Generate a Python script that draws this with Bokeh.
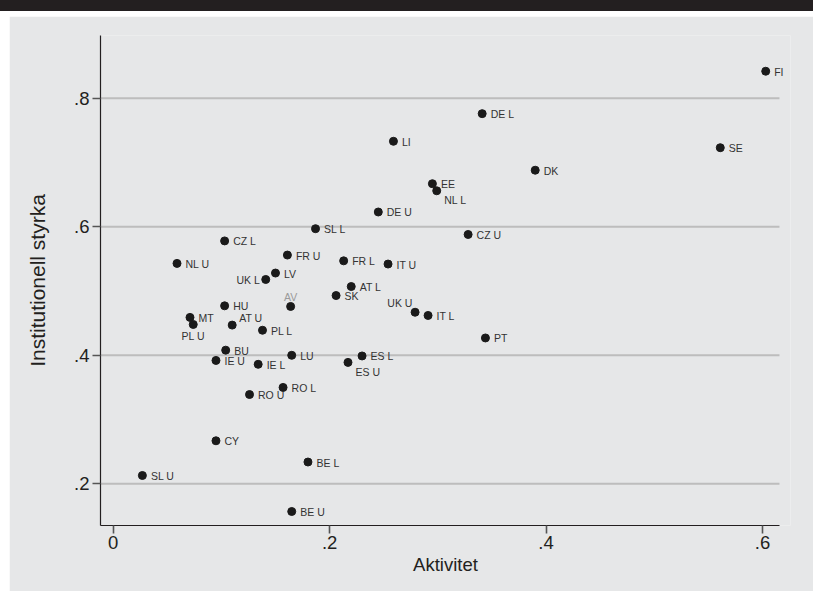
from bokeh.plotting import figure
from bokeh.models import ColumnDataSource, LabelSet, FixedTicker, Range1d, Div, Spacer
from bokeh.layouts import column, row
from bokeh.core.properties import value
from bokeh.embed import file_html
from bokeh.resources import INLINE

# ---- data ----
labels = ["FI", "SE", "DK", "DE L", "LI", "EE", "NL L", "DE U", "SL L", "CZ U",
          "CZ L", "FR U", "FR L", "IT U", "NL U", "LV", "UK L", "AT L", "SK", "HU",
          "AV", "UK U", "IT L", "MT", "PL U", "AT U", "PL L", "PT", "BU", "LU",
          "ES L", "IE U", "ES U", "IE L", "RO L", "RO U", "CY", "BE L", "SL U", "BE U"]
aktivitet = [0.603, 0.561, 0.390, 0.341, 0.259, 0.295, 0.299, 0.245, 0.187, 0.328,
             0.103, 0.161, 0.213, 0.254, 0.059, 0.150, 0.141, 0.220, 0.206, 0.103,
             0.164, 0.279, 0.291, 0.071, 0.074, 0.110, 0.138, 0.344, 0.104, 0.165,
             0.230, 0.095, 0.217, 0.134, 0.157, 0.126, 0.095, 0.180, 0.027, 0.165]
styrka = [0.842, 0.723, 0.688, 0.776, 0.733, 0.667, 0.656, 0.623, 0.597, 0.588,
          0.578, 0.556, 0.547, 0.542, 0.543, 0.528, 0.518, 0.507, 0.493, 0.477,
          0.476, 0.467, 0.462, 0.459, 0.448, 0.447, 0.439, 0.427, 0.408, 0.400,
          0.399, 0.392, 0.389, 0.386, 0.350, 0.339, 0.267, 0.234, 0.213, 0.157]

x_ticks = [0, 0.2, 0.4, 0.6]
x_tick_labels = ["0", ".2", ".4", ".6"]
y_ticks = [0.2, 0.4, 0.6, 0.8]
y_tick_labels = [".2", ".4", ".6", ".8"]

# ---- styling ----
BG = "#e6e7e8"
FONT = "Liberation Sans"
X_START, X_END = -0.0117, 0.6259     # frame range
AXIS_END = 0.6157                    # where axis line / grid lines stop
Y_START, Y_END = 0.1352, 0.8976
# label placement (style): name -> placement key
PLACE = {"UK L": "left", "AV": "above", "PL U": "below", "AT U": "upright",
         "UK U": "upleft", "NL L": "lowright", "ES U": "lowright"}
# placement -> (dx px, dy px downward, align)
OFFS = {"right": (8.5, 4.5, "left"), "left": (-6, 4.5, "right"),
        "above": (0, -5.7, "center"), "below": (0, 16, "center"),
        "upright": (7, -2.7, "left"), "upleft": (-2.7, -5, "right"),
        "lowright": (7.5, 13.5, "left")}

p = figure(width=804, height=575, output_backend="svg", toolbar_location=None,
           x_range=Range1d(X_START, X_END), y_range=Range1d(Y_START, Y_END),
           min_border_left=91, min_border_right=23, min_border_top=19,
           min_border_bottom=66, margin=0)
p.background_fill_color = BG
p.border_fill_color = BG
p.outline_line_color = None
p.grid.visible = False

# horizontal grid lines, stopping where the x axis stops
p.segment(x0=[X_START] * len(y_ticks), x1=[AXIS_END] * len(y_ticks),
          y0=y_ticks, y1=y_ticks, line_color="#bdbdbd", line_width=2,
          level="underlay")

p.xaxis.ticker = FixedTicker(ticks=x_ticks)
p.yaxis.ticker = FixedTicker(ticks=y_ticks)
p.xaxis.major_label_overrides = dict(zip(x_ticks, x_tick_labels))
p.yaxis.major_label_overrides = dict(zip(y_ticks, y_tick_labels))
p.xaxis.bounds = (X_START, AXIS_END)
p.xaxis.axis_label = "Aktivitet"
p.yaxis.axis_label = "Institutionell styrka"
for ax in (p.xaxis, p.yaxis):
    ax.axis_line_color = "#231f20"
    ax.axis_line_width = 1.2
    ax.major_tick_line_color = "#555555"
    ax.major_tick_line_width = 1.6
    ax.major_tick_in = 0
    ax.major_tick_out = 8
    ax.minor_tick_line_color = None
    ax.major_label_text_font = FONT
    ax.major_label_text_font_size = "18.5px"
    ax.major_label_text_color = "#231f20"
    ax.axis_label_text_font = FONT
    ax.axis_label_text_font_style = "normal"
    ax.axis_label_text_color = "#231f20"
p.xaxis.axis_label_text_font_size = "18.5px"
p.yaxis.axis_label_text_font_size = "21px"
p.xaxis.major_label_standoff = 2
p.yaxis.major_label_standoff = 3
p.xaxis.axis_label_standoff = 2
p.yaxis.axis_label_standoff = 22

src = ColumnDataSource(dict(x=aktivitet, y=styrka, name=labels))
p.scatter("x", "y", source=src, size=8, fill_color="#1a1a1a", line_color="#1a1a1a")

groups = {}
for n, xv, yv in zip(labels, aktivitet, styrka):
    key = PLACE.get(n, "right")
    g = groups.setdefault(key, dict(x=[], y=[], name=[], color=[]))
    g["x"].append(xv)
    g["y"].append(yv)
    g["name"].append(n)
    g["color"].append("#9a9a9a" if n == "AV" else "#333333")

for key, g in groups.items():
    dx, dy, align = OFFS[key]
    ls = LabelSet(x="x", y="y", text="name", source=ColumnDataSource(g),
                  x_offset=dx, y_offset=-dy, text_align=align,
                  text_baseline="alphabetic", text_font=value(FONT),
                  text_font_size="10.5px", text_color="color")
    p.add_layout(ls)

band = Div(text="", width=813, height=11, margin=0,
           styles={"background-color": "#231f20"})
gap = Spacer(width=813, height=5, margin=0)
left = Spacer(width=9, height=575, margin=0)
layout = column(band, gap, row(left, p, spacing=0, margin=0), spacing=0, margin=0)

open("out.html", "w").write(file_html(layout, INLINE))
